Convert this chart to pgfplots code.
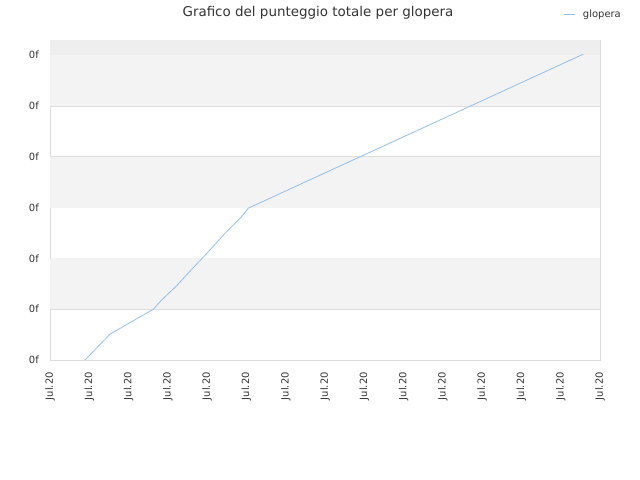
\documentclass[border=0pt]{standalone}
\usepackage{pgfplots}
\pgfplotsset{compat=1.18}
\usepackage{fontspec}
\setmainfont{DejaVu Sans}
\definecolor{lineblue}{RGB}{144,192,240}
\definecolor{band}{RGB}{243,243,243}
\definecolor{topband}{RGB}{238,238,238}
\definecolor{gridc}{RGB}{221,221,221}
\definecolor{textc}{RGB}{51,51,51}
\begin{document}
\begin{tikzpicture}[x=1bp,y=1bp]
\path[use as bounding box] (0,0) rectangle (640,480);
\begin{axis}[
  at={(50bp,120bp)}, anchor=south west,
  scale only axis, width=550bp, height=320bp,
  xmin=0, xmax=14, ymin=0, ymax=6.3,
  xtick={0,...,14}, ytick={0,...,6},
  xticklabels={Jul.20,Jul.20,Jul.20,Jul.20,Jul.20,Jul.20,Jul.20,Jul.20,Jul.20,Jul.20,Jul.20,Jul.20,Jul.20,Jul.20,Jul.20},
  yticklabels={0f,0f,0f,0f,0f,0f,0f},
  x tick label style={rotate=90, anchor=east, font=\fontsize{10}{12}\selectfont, text=textc, inner sep=0pt},
  y tick label style={font=\fontsize{10}{12}\selectfont, text=textc, inner sep=0pt},
  xticklabel shift=12bp, yticklabel shift=11bp,
  major tick length=0pt,
  axis line style={gridc},
  ymajorgrids, grid style={gridc, line width=0.8bp},
  legend style={draw=none, fill=none, at={(0.9327,1.081)}, anchor=west, font=\fontsize{10}{12}\selectfont, text=textc, inner sep=0pt, legend cell align=left},
  legend image code/.code={\draw[#1] (0bp,0bp) -- (11bp,0bp);},
]
\fill[topband] (axis cs:0,6) rectangle (axis cs:14,6.3);
\fill[band] (axis cs:0,5) rectangle (axis cs:14,6);
\fill[band] (axis cs:0,3) rectangle (axis cs:14,4);
\fill[band] (axis cs:0,1) rectangle (axis cs:14,2);
\addplot[lineblue, line width=0.8bp] coordinates {
(0.89,0) (1.53,0.51) (2.63,1.0) (2.84,1.18) (3.22,1.46) (3.65,1.82) (4.03,2.13) (4.45,2.49) (4.84,2.79) (5.05,2.99) (13.57,6.02)
};
\addlegendentry{\hspace{6bp}glopera}
\end{axis}
\node[text=textc, font=\fontsize{13.5}{15}\selectfont] at (318,467) {Grafico del punteggio totale per glopera};
\end{tikzpicture}
\end{document}
